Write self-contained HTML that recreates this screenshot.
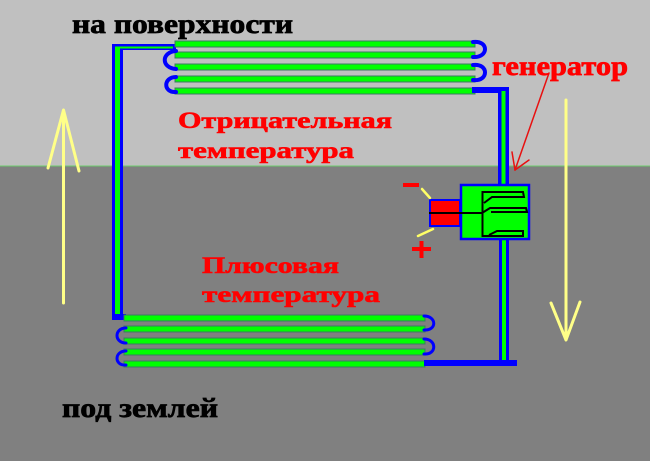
<!DOCTYPE html>
<html><head><meta charset="utf-8"><style>
html,body{margin:0;padding:0;background:#808080;}
svg{display:block;}
text{font-family:"Liberation Serif","DejaVu Serif",serif;font-weight:bold;}
</style></head><body>
<svg width="650" height="461" viewBox="0 0 650 461" xmlns="http://www.w3.org/2000/svg">
<rect x="0" y="0" width="650" height="166" fill="#c0c0c0"/>
<rect x="0" y="166" width="650" height="295" fill="#808080"/>
<rect x="0" y="165.5" width="650" height="1" fill="#6ccc6c"/>

<!-- left pipe -->
<rect x="112" y="44" width="11" height="276" fill="#0000ff"/>
<rect x="112" y="44" width="64" height="6" fill="#0000ff"/>
<rect x="115" y="46.5" width="5" height="271" fill="#00ff00"/>
<rect x="115" y="46.5" width="58" height="2" fill="#00ff00"/>
<rect x="112" y="314" width="14" height="6" fill="#0000ff"/>

<!-- top bars -->
<g fill="#00ff00" stroke="#3b7a62" stroke-width="1">
<rect x="175" y="41" width="300" height="6"/>
<rect x="175" y="52" width="300" height="6"/>
<rect x="175" y="64" width="300" height="6"/>
<rect x="175" y="76" width="300" height="6"/>
<rect x="175" y="88" width="300" height="6"/>
</g>
<g fill="none" stroke="#0000ff" stroke-width="4" stroke-linecap="round">
<path d="M473,42 C489,40 489,58 473,57"/>
<path d="M473,65 C489,63 489,82 473,80"/>
<path d="M176,51 C161,52 161,68 176,69"/>
<path d="M176,77 C163,77 163,93 176,92"/>
</g>

<!-- right top pipe -->
<rect x="472" y="87" width="37" height="6" fill="#0000ff"/>
<rect x="498" y="87" width="11" height="98" fill="#0000ff"/>
<rect x="501.5" y="91" width="4" height="94" fill="#00ff00"/>

<!-- bottom bars -->
<g fill="#00ff00" stroke="#3b7a62" stroke-width="1">
<rect x="124" y="315" width="301" height="6"/>
<rect x="124" y="326" width="301" height="6"/>
<rect x="124" y="338" width="301" height="6"/>
<rect x="124" y="349" width="301" height="6"/>
<rect x="124" y="361" width="301" height="6"/>
</g>
<g fill="none" stroke="#0000ff" stroke-width="3" stroke-linecap="round">
<path d="M424,316 C437,316 437,331 424,330"/>
<path d="M424,339 C437,339 437,355 424,354"/>
<path d="M126,328 C114,328 114,343 126,343"/>
<path d="M126,351 C114,351 114,366 126,365"/>
</g>

<!-- right bottom pipe -->
<rect x="499" y="239" width="10" height="127" fill="#0000ff"/>
<rect x="502" y="239" width="4" height="122" fill="#00ff00"/>
<rect x="424" y="360" width="93" height="6" fill="#0000ff"/>

<!-- generator -->
<rect x="461" y="185" width="68" height="54" fill="#00ff00" stroke="#0000ff" stroke-width="2.5"/>
<rect x="430" y="200" width="30" height="26" fill="#ff0000" stroke="#0000ff" stroke-width="2"/>
<g fill="none" stroke="#000" stroke-width="2">
<line x1="429" y1="213" x2="483" y2="213"/>
<line x1="482.5" y1="191" x2="482.5" y2="237"/>
<path d="M482,192 L523,192 L524,197 L492,197 L484,203"/>
<path d="M482,213 L490,208 L526,208 L527,212 L491,212"/>
<path d="M482,236 L523,236 L523,231 L497,231 L489,235"/>
</g>
<rect x="403" y="183" width="16" height="4" fill="#ff0000"/>
<rect x="412" y="247" width="19" height="4" fill="#ff0000"/>
<rect x="419.5" y="241" width="4" height="17" fill="#ff0000"/>
<g stroke="#ffff66" stroke-width="2.5" stroke-linecap="round">
<line x1="422" y1="189" x2="430" y2="198"/>
<line x1="418" y1="236" x2="433" y2="229"/>
</g>

<!-- yellow arrows -->
<g stroke="#ffff88" stroke-width="3" fill="none" stroke-linecap="round" stroke-linejoin="round">
<line x1="63.5" y1="111" x2="63.5" y2="303"/>
<polyline points="48,168 63.5,110 79,171"/>
<line x1="566" y1="100" x2="566" y2="339"/>
<polyline points="551,303 566,340 580,302"/>
</g>

<!-- red arrow -->
<g stroke="#e81010" stroke-width="1.5" fill="none" stroke-linecap="round">
<line x1="549" y1="73" x2="515" y2="170"/>
<line x1="515" y1="170" x2="512" y2="152"/>
<line x1="515" y1="170" x2="529" y2="160"/>
</g>

<!-- text -->
<text x="72" y="33" font-size="27" fill="#000" stroke="#000" stroke-width="0.7" textLength="221" lengthAdjust="spacingAndGlyphs">на поверхности</text>
<text x="62" y="417" font-size="27" fill="#000" stroke="#000" stroke-width="0.7" textLength="156" lengthAdjust="spacingAndGlyphs">под землей</text>
<text x="492" y="75" font-size="27" fill="#ff0000" stroke="#ff0000" stroke-width="0.7" textLength="136" lengthAdjust="spacingAndGlyphs">генератор</text>
<text x="178" y="128" font-size="23" fill="#ff0000" stroke="#ff0000" stroke-width="0.6" textLength="214" lengthAdjust="spacingAndGlyphs">Отрицательная</text>
<text x="178" y="158" font-size="23" fill="#ff0000" stroke="#ff0000" stroke-width="0.6" textLength="176" lengthAdjust="spacingAndGlyphs">температура</text>
<text x="202" y="273" font-size="23" fill="#ff0000" stroke="#ff0000" stroke-width="0.6" textLength="137" lengthAdjust="spacingAndGlyphs">Плюсовая</text>
<text x="202" y="302" font-size="23" fill="#ff0000" stroke="#ff0000" stroke-width="0.6" textLength="178" lengthAdjust="spacingAndGlyphs">температура</text>
</svg>
</body></html>
